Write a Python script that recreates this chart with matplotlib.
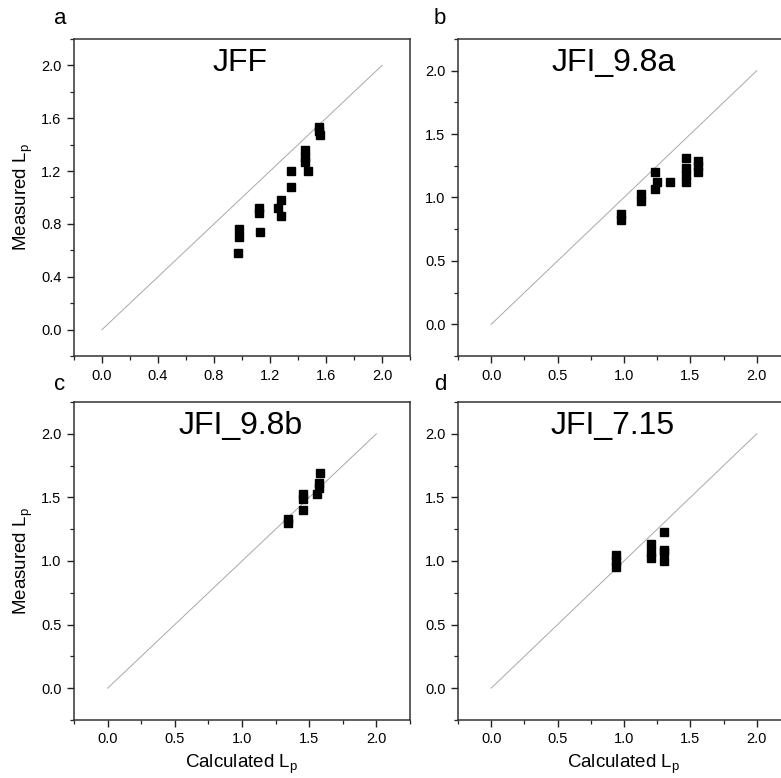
import numpy as np
import matplotlib
matplotlib.use("Agg")
import matplotlib.pyplot as plt
from matplotlib.ticker import MultipleLocator

plt.rcParams["font.family"] = ["Liberation Sans", "DejaVu Sans"]
plt.rcParams["mathtext.fontset"] = "custom"
plt.rcParams["mathtext.rm"] = "Liberation Sans"

# calculated vs measured Lp for each sample set
jff_calc = [1.55, 1.55, 1.56, 1.45, 1.45, 1.45, 1.47, 1.35, 1.35, 1.28, 1.26, 1.28,
            1.12, 1.12, 1.13, 0.98, 0.98, 0.97]
jff_meas = [1.53, 1.50, 1.47, 1.36, 1.31, 1.27, 1.20, 1.20, 1.08, 0.98, 0.92, 0.86,
            0.92, 0.88, 0.74, 0.76, 0.70, 0.58]

jfi98a_calc = [1.47, 1.47, 1.47, 1.47, 1.56, 1.56, 1.56, 1.35, 1.23, 1.25, 1.23,
               1.13, 1.13, 0.98, 0.98]
jfi98a_meas = [1.31, 1.23, 1.18, 1.12, 1.29, 1.25, 1.20, 1.12, 1.20, 1.12, 1.07,
               1.03, 0.97, 0.87, 0.82]

jfi98b_calc = [1.58, 1.57, 1.57, 1.56, 1.45, 1.45, 1.45, 1.34, 1.34]
jfi98b_meas = [1.69, 1.61, 1.57, 1.53, 1.53, 1.49, 1.40, 1.33, 1.30]

jfi715_calc = [0.94, 0.94, 0.94, 1.20, 1.20, 1.20, 1.30, 1.30, 1.30, 1.30]
jfi715_meas = [1.05, 1.00, 0.95, 1.13, 1.07, 1.02, 1.23, 1.09, 1.07, 1.00]

panels = [
    # letter, name, x, y, rect, limits, major step, name x-pos
    ("a", "JFF", jff_calc, jff_meas, [0.0948, 0.5424, 0.4302, 0.4075], (-0.2, 2.2), 0.4, 0.494),
    ("b", "JFI_9.8a", jfi98a_calc, jfi98a_meas, [0.5864, 0.5424, 0.4251, 0.4075], (-0.25, 2.25), 0.5, 0.47),
    ("c", "JFI_9.8b", jfi98b_calc, jfi98b_meas, [0.0948, 0.0746, 0.4302, 0.4087], (-0.25, 2.25), 0.5, 0.496),
    ("d", "JFI_7.15", jfi715_calc, jfi715_meas, [0.5864, 0.0746, 0.4251, 0.4087], (-0.25, 2.25), 0.5, 0.467),
]

fig = plt.figure(figsize=(7.81, 7.78), dpi=100)

for i, (letter, name, xc, ym, rect, lim, step, tx) in enumerate(panels):
    ax = fig.add_axes(rect)
    ax.plot([0, 2], [0, 2], color="#a8a8a8", lw=0.7, zorder=1)
    ax.plot(xc, ym, ls="none", marker="s", ms=5.8, color="black",
            mec="black", zorder=2)
    ax.set_xlim(*lim)
    ax.set_ylim(*lim)
    ax.xaxis.set_major_locator(MultipleLocator(step))
    ax.yaxis.set_major_locator(MultipleLocator(step))
    ax.xaxis.set_minor_locator(MultipleLocator(step / 2))
    ax.yaxis.set_minor_locator(MultipleLocator(step / 2))
    ax.xaxis.set_major_formatter(plt.FormatStrFormatter("%.1f"))
    ax.yaxis.set_major_formatter(plt.FormatStrFormatter("%.1f"))
    ax.tick_params(which="major", direction="out", length=5, width=1.0,
                   labelsize=10.5, color="#222222", pad=4)
    ax.tick_params(which="minor", direction="out", length=3, width=0.9,
                   color="#222222")
    for sp in ax.spines.values():
        sp.set_linewidth(1.1)
        sp.set_color("#333333")
    ax.text(tx, 0.925, name, transform=ax.transAxes, ha="center", va="center",
            fontsize=23)
    if i % 2 == 0:
        ax.set_ylabel("Measured L$_\\mathregular{p}$", fontsize=13.5, labelpad=4)
    if i >= 2:
        ax.set_xlabel("Calculated L$_\\mathregular{p}$", fontsize=13.5, labelpad=4)
    lx = 60 / 781 if i % 2 == 0 else 440 / 781
    ly = 1 - (18 / 778 if i < 2 else 384 / 778)
    fig.text(lx, ly, letter, ha="center", va="center", fontsize=16)

fig.savefig("out.png", dpi=100)
